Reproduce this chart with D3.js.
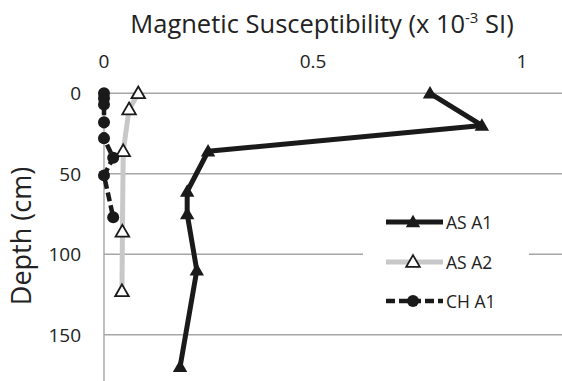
<!DOCTYPE html>
<html>
<head>
<meta charset="utf-8">
<script src="https://cdn.jsdelivr.net/npm/d3@7"></script>
<style>
  body { margin: 0; background: #fff; }
  svg text { font-family: "Open Sans", "Noto Sans", sans-serif; fill: #222; }
</style>
</head>
<body>
<svg width="562" height="381"></svg>
<script>
// depth (cm) and magnetic susceptibility (x 10^-3 SI) per series
var asA1Depth = [0, 20, 36, 61, 75, 110, 170],
    asA1Value = [0.78, 0.904, 0.249, 0.199, 0.199, 0.222, 0.182];

var asA2Depth = [0, 10, 36, 86, 123],
    asA2Value = [0.082, 0.06, 0.046, 0.044, 0.043];

var chA1Depth = [0, 3, 7, 18, 28, 40, 51, 77],
    chA1Value = [0, 0, 0, 0, 0, 0.022, 0, 0.022];

var xTicks = [0, 0.5, 1],
    xTickLabels = ["0", "0.5", "1"];
var yTicks = [0, 50, 100, 150];

var seriesNames = ["AS A1", "AS A2", "CH A1"];

var svg = d3.select("svg"),
    width = +svg.attr("width"),
    height = +svg.attr("height");

var x = d3.scaleLinear().domain([0, 1]).range([104, 522]);
var y = d3.scaleLinear().domain([0, 180]).range([93.3, 383]);

function zip(depths, values) {
    return depths.map(function(d, i) { return {depth: d, value: values[i]}; });
}
var asA1 = zip(asA1Depth, asA1Value),
    asA2 = zip(asA2Depth, asA2Value),
    chA1 = zip(chA1Depth, chA1Value);

var line = d3.line()
    .x(function(d) { return x(d.value); })
    .y(function(d) { return y(d.depth); });

// title
var title = svg.append("text")
    .attr("x", 322)
    .attr("y", 33)
    .attr("text-anchor", "middle")
    .style("font-size", "25.5px");
title.append("tspan").text("Magnetic Susceptibility (x 10");
title.append("tspan").attr("dy", -10).style("font-size", "15px").text("-3");
title.append("tspan").attr("dy", 10).text(" SI)");

// y label
svg.append("text")
    .attr("transform", "translate(31,236) rotate(-90)")
    .attr("text-anchor", "middle")
    .style("font-size", "27px")
    .text("Depth (cm)");

// gridlines
svg.append("g").selectAll("line")
    .data(yTicks)
  .enter().append("line")
    .attr("x1", x(0))
    .attr("x2", width)
    .attr("y1", function(d) { return y(d); })
    .attr("y2", function(d) { return y(d); })
    .attr("stroke", "#a6a6a6")
    .attr("stroke-width", 1.4);

// vertical axis line
svg.append("line")
    .attr("x1", x(0)).attr("x2", x(0))
    .attr("y1", y(0)).attr("y2", height)
    .attr("stroke", "#a6a6a6")
    .attr("stroke-width", 1.4);

// tick labels
svg.append("g").selectAll("text")
    .data(xTicks)
  .enter().append("text")
    .attr("x", function(d) { return x(d); })
    .attr("y", 68)
    .attr("text-anchor", "middle")
    .style("font-size", "19px")
    .text(function(d, i) { return xTickLabels[i]; });

svg.append("g").selectAll("text")
    .data(yTicks)
  .enter().append("text")
    .attr("x", 81)
    .attr("y", function(d) { return y(d) + 7; })
    .attr("text-anchor", "end")
    .style("font-size", "19px")
    .text(function(d) { return d; });

// marker helpers
var triUp = d3.symbol().type(d3.symbolTriangle).size(90);
var triOpen = d3.symbol().type(d3.symbolTriangle).size(80);

function drawSeries(data, style) {
    var gs = svg.append("g");
    gs.append("path")
        .datum(data)
        .attr("fill", "none")
        .attr("stroke", style.stroke)
        .attr("stroke-width", style.width)
        .attr("stroke-dasharray", style.dash || null)
        .attr("stroke-linejoin", "round")
        .attr("d", line);
    drawMarkers(gs, data.map(function(d) { return [x(d.value), y(d.depth)]; }), style.marker);
}

function drawMarkers(g, pts, marker) {
    var sel = g.selectAll(".m").data(pts).enter();
    if (marker === "circle") {
        sel.append("circle")
            .attr("cx", function(p) { return p[0]; })
            .attr("cy", function(p) { return p[1]; })
            .attr("r", 6)
            .attr("fill", "#1a1a1a");
    } else if (marker === "tri") {
        sel.append("path")
            .attr("transform", function(p) { return "translate(" + p[0] + "," + (p[1] + 1) + ")"; })
            .attr("d", triUp)
            .attr("fill", "#1a1a1a");
    } else {
        sel.append("path")
            .attr("transform", function(p) { return "translate(" + p[0] + "," + (p[1] + 1) + ")"; })
            .attr("d", triOpen)
            .attr("fill", "#fff")
            .attr("stroke", "#1a1a1a")
            .attr("stroke-width", 1.8);
    }
}

var styles = [
    {stroke: "#1a1a1a", width: 5, marker: "tri"},
    {stroke: "#c8c8c8", width: 5, marker: "open"},
    {stroke: "#1a1a1a", width: 4.5, dash: "9,4", marker: "circle"}
];

drawSeries(asA2, styles[1]);
drawSeries(chA1, styles[2]);
drawSeries(asA1, styles[0]);

// legend
var legend = svg.append("g");
legend.append("rect")
    .attr("x", 363).attr("y", 200)
    .attr("width", 166).attr("height", 120)
    .attr("fill", "#fff");

var legendY = [222, 262, 301];
seriesNames.forEach(function(name, i) {
    var ly = legendY[i], s = styles[i];
    legend.append("line")
        .attr("x1", 386).attr("x2", 443)
        .attr("y1", ly).attr("y2", ly)
        .attr("stroke", s.stroke)
        .attr("stroke-width", s.width)
        .attr("stroke-dasharray", s.dash || null);
    drawMarkers(legend, [[413, ly]], s.marker);
    legend.append("text")
        .attr("x", 446)
        .attr("y", ly + 7)
        .style("font-size", "17.5px")
        .text(name);
});
</script>
</body>
</html>
